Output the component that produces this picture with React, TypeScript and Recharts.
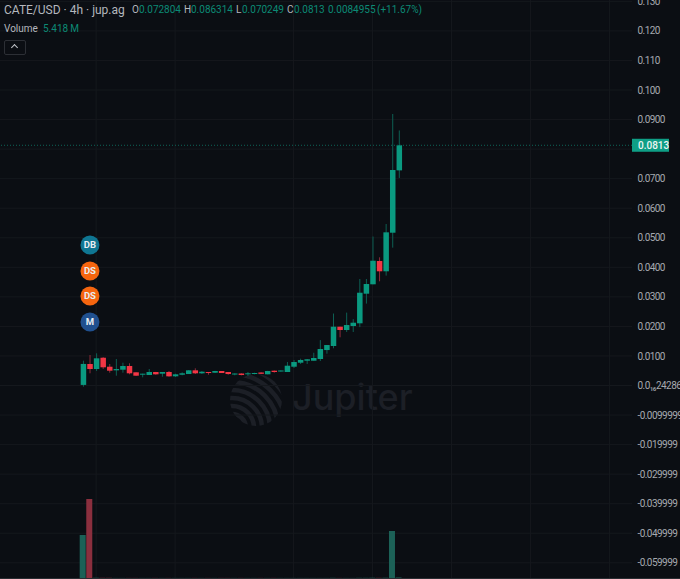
import { Bar, CartesianGrid, ComposedChart, ReferenceDot, ReferenceLine, XAxis, YAxis } from "recharts";

const opens = [0.0002, 0.00728, 0.00558, 0.0094, 0.00636, 0.00514, 0.00535, 0.0066, 0.00447, 0.00379, 0.00355, 0.00457, 0.004, 0.00457, 0.00311, 0.00365, 0.00389, 0.00514, 0.00413, 0.00457, 0.00433, 0.00491, 0.00457, 0.00372, 0.00406, 0.00379, 0.00389, 0.0044, 0.00379, 0.00501, 0.00474, 0.00457, 0.00636, 0.00772, 0.00839, 0.00839, 0.00897, 0.012, 0.01337, 0.0199, 0.01878, 0.02013, 0.02105, 0.03107, 0.03425, 0.04213, 0.03865, 0.05171, 0.072804];
const highs = [0.0084, 0.01032, 0.0109, 0.0096, 0.00728, 0.00897, 0.00772, 0.00751, 0.00447, 0.004, 0.00558, 0.0046, 0.00457, 0.00491, 0.004, 0.00447, 0.00525, 0.00582, 0.00491, 0.00457, 0.00497, 0.00491, 0.00457, 0.00413, 0.00413, 0.00457, 0.00433, 0.00447, 0.00497, 0.00508, 0.00515, 0.00795, 0.00863, 0.00907, 0.00897, 0.01109, 0.01536, 0.0137, 0.02436, 0.0199, 0.02467, 0.02247, 0.03604, 0.03604, 0.05042, 0.04338, 0.05465, 0.09188, 0.086314];
const lows = [-0.0004, 0.00413, 0.0049, 0.0056, 0.00433, 0.00332, 0.00433, 0.00379, 0.00321, 0.00277, 0.00355, 0.00365, 0.00298, 0.00298, 0.00288, 0.00345, 0.00389, 0.00389, 0.00389, 0.00365, 0.00423, 0.00423, 0.00365, 0.00345, 0.00345, 0.00321, 0.00379, 0.00389, 0.00379, 0.00433, 0.00467, 0.00457, 0.00592, 0.00728, 0.00728, 0.00839, 0.00829, 0.01076, 0.01259, 0.01631, 0.01811, 0.01811, 0.01976, 0.02772, 0.03425, 0.03526, 0.03719, 0.04665, 0.070249];
const closes = [0.0073, 0.00558, 0.0092, 0.00616, 0.00501, 0.00558, 0.0066, 0.00413, 0.00332, 0.004, 0.00457, 0.00379, 0.00457, 0.00311, 0.00379, 0.00413, 0.00514, 0.00413, 0.00467, 0.00423, 0.00491, 0.00423, 0.00389, 0.00406, 0.00355, 0.00413, 0.00423, 0.00396, 0.00491, 0.00457, 0.00508, 0.0067, 0.00795, 0.00863, 0.00887, 0.00931, 0.01235, 0.0137, 0.0199, 0.01878, 0.02047, 0.02125, 0.0314, 0.03435, 0.04223, 0.03865, 0.05184, 0.07293, 0.0813];
// millions, nearly everything after the first bars is too small to see
const volumes = [430, 790, 3, 2, 2, 1, 1, 1, 1, 1, 1, 1, 1, 1, 1, 1, 1, 1, 1, 1, 1, 1, 1, 1, 1, 1, 1, 1, 1, 1, 1, 1, 1, 1, 1, 1, 1, 1, 2, 1, 1, 1, 2, 2, 3, 2, 3, 470, 5.418];

const priceTicks = [0.13, 0.12, 0.11, 0.1, 0.09, 0.08, 0.07, 0.06, 0.05, 0.04, 0.03, 0.02, 0.01, 0, -0.01, -0.02, -0.03, -0.04, -0.05, -0.06];
// 0.0800 sits under the last price tag, so it has no label
const priceLabels = ["0.130", "0.120", "0.110", "0.100", "0.0900", "", "0.0700", "0.0600", "0.0500", "0.0400", "0.0300", "0.0200", "0.0100", "0.0₁₆24286", "-0.0099999", "-0.019999", "-0.029999", "-0.039999", "-0.049999", "-0.059999"];
const timeGrid = [2, 14, 32, 44, 56, 68, 80];

const lastPrice = 0.0813;
const markerLabels = ["DB", "DS", "DS", "M"];
const markerPrices = [0.04755, 0.03875, 0.03029, 0.02149];
const markerColors: Record<string, string> = { DB: "#0f7692", DS: "#f5650f", M: "#20508f" };

const rows = opens.map((open, i) => ({ i, open, high: highs[i], low: lows[i], close: closes[i], volume: volumes[i] }));

const UP = "#0a9a80";
const DOWN = "#f23645";
const FONT = "Roboto, sans-serif";

function Candle(props: any) {
  const { x, y, width, height, payload } = props;
  const up = payload.close >= payload.open;
  const perUnit = height / (payload.high - payload.low);
  const top = y + (payload.high - Math.max(payload.open, payload.close)) * perUnit;
  const bodyH = Math.max(Math.abs(payload.open - payload.close) * perUnit, 1);
  const mid = x + width / 2;
  return (
    <g>
      <line x1={mid} x2={mid} y1={y} y2={y + height} stroke={up ? "#0d5f53" : "#8c2a39"} strokeWidth={1} />
      <rect x={x} y={top} width={width} height={bodyH} fill={up ? UP : DOWN} />
    </g>
  );
}

function VolumeBar(props: any) {
  const { x, y, width, height, payload } = props;
  return <rect x={x} y={y} width={width} height={height} fill={payload.close >= payload.open ? "#1c6157" : "#8b2f3e"} />;
}

function PriceTag(props: any) {
  const { viewBox } = props;
  const right = viewBox.x + viewBox.width;
  return (
    <g>
      <rect x={right} y={viewBox.y - 6.5} width={37} height={13} fill="#0f9f86" />
      <text x={right + 6} y={viewBox.y + 3.5} fill="#eef5f3" fontSize={10} fontFamily={FONT} fontWeight={500}>
        0.0813
      </text>
    </g>
  );
}

function Watermark() {
  return (
    <svg width={680} height={579} style={{ position: "absolute", left: 0, top: 0 }}>
      <defs>
        <clipPath id="logo">
          <circle cx={256} cy={400} r={26} />
        </clipPath>
      </defs>
      <g clipPath="url(#logo)" fill="none" stroke="#1c1f26" strokeWidth={4.6}>
        {[14, 22, 30, 38, 46, 54, 62].map((r) => (
          <circle key={r} cx={232} cy={428} r={r} />
        ))}
      </g>
      <text x={292} y={410} fill="#1c1f26" fontSize={36} fontWeight={500} fontFamily="Inter, Roboto, sans-serif">
        Jupiter
      </text>
    </svg>
  );
}

function Label({ left, top, color, size, children }: any) {
  return (
    <span style={{ position: "absolute", left, top, color, fontSize: size, lineHeight: "14px", whiteSpace: "nowrap", fontFamily: FONT }}>
      {children}
    </span>
  );
}

export default function App() {
  const grey = "#b4b7bd";
  const green = "#0c8a75";
  return (
    <div style={{ position: "absolute", left: 0, top: 0, width: 680, height: 579, background: "#0b0e13", overflow: "hidden" }}>
      <Watermark />
      <div style={{ position: "absolute", left: 0, top: 0 }}>
        <ComposedChart width={680} height={578} data={rows} margin={{ top: 0, right: 0, bottom: 0, left: 0 }}>
          <CartesianGrid xAxisId="price" yAxisId="price" stroke="#15181d" verticalValues={timeGrid} horizontalValues={priceTicks} />
          <XAxis xAxisId="price" dataKey="i" type="number" domain={[-12.61, 83.43]} allowDataOverflow hide />
          <XAxis xAxisId="vol" dataKey="i" type="number" domain={[-12.61, 83.43]} allowDataOverflow hide />
          <YAxis
            yAxisId="price"
            orientation="right"
            width={48}
            domain={[-0.06514, 0.13046]}
            allowDataOverflow
            ticks={priceTicks}
            interval={0}
            tickFormatter={(v: number) => priceLabels[priceTicks.indexOf(v)]}
            axisLine={false}
            tickLine={false}
            tickMargin={0}
            tickSize={5.5}
            tick={{ fill: "#a6a9af", fontSize: 10, fontFamily: FONT, letterSpacing: -0.55 }}
          />
          <YAxis yAxisId="vol" domain={[0, 5780]} hide />
          <Bar xAxisId="vol" yAxisId="vol" dataKey="volume" barSize={6} shape={VolumeBar} isAnimationActive={false} />
          <Bar
            xAxisId="price"
            yAxisId="price"
            dataKey={(d: any) => [d.low, d.high]}
            barSize={5.5}
            shape={Candle}
            isAnimationActive={false}
          />
          <ReferenceLine
            xAxisId="price"
            yAxisId="price"
            y={lastPrice}
            stroke="#0e6558"
            strokeDasharray="1 2"
            label={PriceTag}
          />
          {markerLabels.map((m, n) => (
            <ReferenceDot
              key={n}
              xAxisId="price"
              yAxisId="price"
              x={1.06}
              y={markerPrices[n]}
              r={9.5}
              fill={markerColors[m]}
              stroke="none"
              label={{ value: m, position: "center", fill: "#e9eef2", fontSize: 9.5, fontWeight: 700, fontFamily: FONT }}
            />
          ))}
        </ComposedChart>
      </div>
      <div style={{ position: "absolute", left: 0, top: 578, width: 680, height: 1, background: "#2a2d32" }} />

      <Label left={4} top={3} color={grey} size={12}>CATE/USD · 4h · jup.ag</Label>
      <Label left={132} top={3} color={grey} size={10}>O</Label>
      <Label left={139} top={3} color={green} size={10}>0.072804</Label>
      <Label left={184} top={3} color={grey} size={10}>H</Label>
      <Label left={191} top={3} color={green} size={10}>0.086314</Label>
      <Label left={236} top={3} color={grey} size={10}>L</Label>
      <Label left={242} top={3} color={green} size={10}>0.070249</Label>
      <Label left={287} top={3} color={grey} size={10}>C</Label>
      <Label left={294} top={3} color={green} size={10}>0.0813</Label>
      <Label left={328} top={3} color={green} size={10}>0.0084955</Label>
      <Label left={377} top={3} color={green} size={10}>(+11.67%)</Label>
      <Label left={4} top={22} color={grey} size={10}>Volume</Label>
      <Label left={43} top={22} color={green} size={10}>5.418{"\u2009"}M</Label>

      <div style={{ position: "absolute", left: 4, top: 40, width: 20, height: 13, border: "1px solid #2c2f35", borderRadius: 2 }} />
      <span style={{ position: "absolute", left: 12, top: 45, width: 4, height: 4, borderLeft: "1px solid #c2c5ca", borderTop: "1px solid #c2c5ca", transform: "rotate(45deg)" }} />
    </div>
  );
}
